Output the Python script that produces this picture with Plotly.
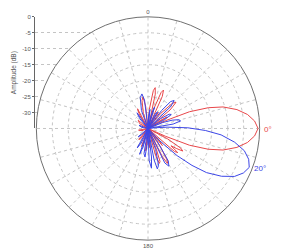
import plotly.graph_objects as go

# ---- data (angle in deg, clockwise from top; level in dB) ----
red_theta = [0, 4, 8, 10, 12, 15, 17, 20, 22, 24, 27, 30, 33, 36, 40, 44, 47, 50, 53, 56, 59, 62,
             66, 68, 71, 74, 78, 82, 86, 90, 94, 98, 102, 106, 109, 112, 114, 115,
             118, 121, 123, 125, 127, 129, 131, 134, 137, 140, 143,
             146, 149, 151, 153, 156, 158, 160, 162, 164, 167, 172, 175, 178, 183, 186, 189,
             196, 200, 204, 215, 220, 225, 250, 260, 270, 300, 310, 320, 328, 332, 336,
             343, 348, 351, 354, 358, 360]
red_db = [-35, -29, -23, -22, -24, -35, -28, -23, -22, -24, -35, -31, -29, -35, -29, -24, -23, -26, -35, -31, -28, -35,
          -29, -21, -15, -10.5, -6.5, -3.5, -1.5, -0.5, -1.5, -3.5, -6.5, -10.5, -15, -21, -29, -35,
          -28, -23, -22, -24, -26, -23, -24, -35, -30, -28, -35,
          -28, -23, -22.5, -25, -35, -28, -24, -23.5, -26, -35, -30, -29, -35, -31, -28, -35,
          -30, -29, -35, -31, -30.5, -35, -33, -32, -35, -32, -31, -35, -30, -28, -35,
          -30, -26, -25, -28, -35, -35]

blue_theta = [0, 3, 6, 9, 14, 17, 20, 26, 30, 34, 37, 40, 43, 46, 49, 52, 56, 59, 62, 65,
              68, 71, 74, 77, 80, 83,
              84, 86, 89, 92, 95, 99, 103, 107, 111, 115, 119, 123, 127, 130, 133, 136, 138,
              144, 148, 151, 154, 157, 160, 164, 167, 169, 171, 173, 175, 178, 181,
              183, 186, 189, 192, 195, 198, 201, 205, 209, 213, 225, 230, 235,
              280, 290, 300, 320, 325, 330, 340, 346, 350, 353, 357, 360]
blue_db = [-35, -31, -29, -35, -30, -28, -35, -30, -29, -35, -28, -24, -23, -25, -35, -30, -27, -26.5, -29, -35,
           -30, -27, -25, -24.5, -27, -35,
           -33, -29, -22.5, -17, -12, -7.5, -4, -2, -1, -2, -4, -7.5, -12, -17, -22.5, -29, -35,
           -30, -23, -21.5, -23, -35, -28, -23, -22, -25, -35, -26, -22.5, -25, -35,
           -30, -26, -27, -35, -29, -26.5, -35, -30, -28, -35, -32, -31, -35,
           -33, -32, -35, -31, -29, -35, -29, -25, -24, -26, -35, -35]

radial_ticks = [0, -5, -10, -15, -20, -25, -30]
angle_ticks = list(range(0, 360, 15))
angle_labels = ["0" if a == 0 else ("180" if a == 180 else "") for a in angle_ticks]

RED = "#e8474a"
BLUE = "#3c46e6"
GRID = "#c4c4c4"
TXT = "#555555"

W, H = 300, 251
cx, cy, R = 148, 127, 113

fig = go.Figure()

# left amplitude axis (cartesian overlay)
fig.add_trace(go.Scatter(x=[0], y=[-35], mode="markers", marker=dict(opacity=0),
                         showlegend=False, hoverinfo="skip", xaxis="x", yaxis="y"))

fig.add_trace(go.Scatterpolar(theta=red_theta, r=red_db, mode="lines",
                              line=dict(color=RED, width=1), showlegend=False))
fig.add_trace(go.Scatterpolar(theta=blue_theta, r=blue_db, mode="lines",
                              line=dict(color=BLUE, width=1), showlegend=False))

fig.update_layout(
    width=W, height=H,
    margin=dict(l=0, r=0, t=0, b=0),
    paper_bgcolor="white",
    plot_bgcolor="rgba(0,0,0,0)",
    showlegend=False,
    font=dict(family="Arial", color=TXT),
    xaxis=dict(domain=[35 / W, cx / W], range=[0, 1], visible=False, fixedrange=True),
    yaxis=dict(domain=[1 - cy / H, 1 - (cy - R) / H], range=[-35, 0],
               tickvals=radial_ticks, ticktext=[str(v) for v in radial_ticks],
               color=TXT,
               showline=True, linecolor="#666666", linewidth=1,
               ticks="outside", ticklen=2, tickcolor="#666666",
               tickfont=dict(size=6, color=TXT, family="Arial"),
               showgrid=True, gridcolor=GRID, griddash="dot", gridwidth=1,
               zeroline=False,
               title=dict(text="Amplitude (dB)", font=dict(size=6.5, color=TXT, family="Arial"),
                          standoff=4)),
    polar=dict(
        domain=dict(x=[(cx - R) / W, (cx + R) / W], y=[1 - (cy + R) / H, 1 - (cy - R) / H]),
        bgcolor="white",
        radialaxis=dict(range=[-35, 0], dtick=5, showticklabels=False, ticks="",
                        showline=False, gridcolor=GRID, griddash="dot", gridwidth=1),
        angularaxis=dict(rotation=90, direction="clockwise", color=TXT,
                         tickmode="array", tickvals=angle_ticks, ticktext=angle_labels,
                         ticks="", tickfont=dict(size=6, color=TXT, family="Arial"),
                         showline=True, linecolor="#707070", linewidth=1,
                         gridcolor=GRID, griddash="dot", gridwidth=1),
    ),
    annotations=[
        dict(text="0°", x=262 / W, y=1 - 128 / H, xref="paper", yref="paper",
             xanchor="left", yanchor="middle", showarrow=False,
             font=dict(size=8, color=RED, family="Arial")),
        dict(text="20°", x=252 / W, y=1 - 168 / H, xref="paper", yref="paper",
             xanchor="left", yanchor="middle", showarrow=False,
             font=dict(size=8, color=BLUE, family="Arial")),
    ],
)

fig.write_html("out.html")
